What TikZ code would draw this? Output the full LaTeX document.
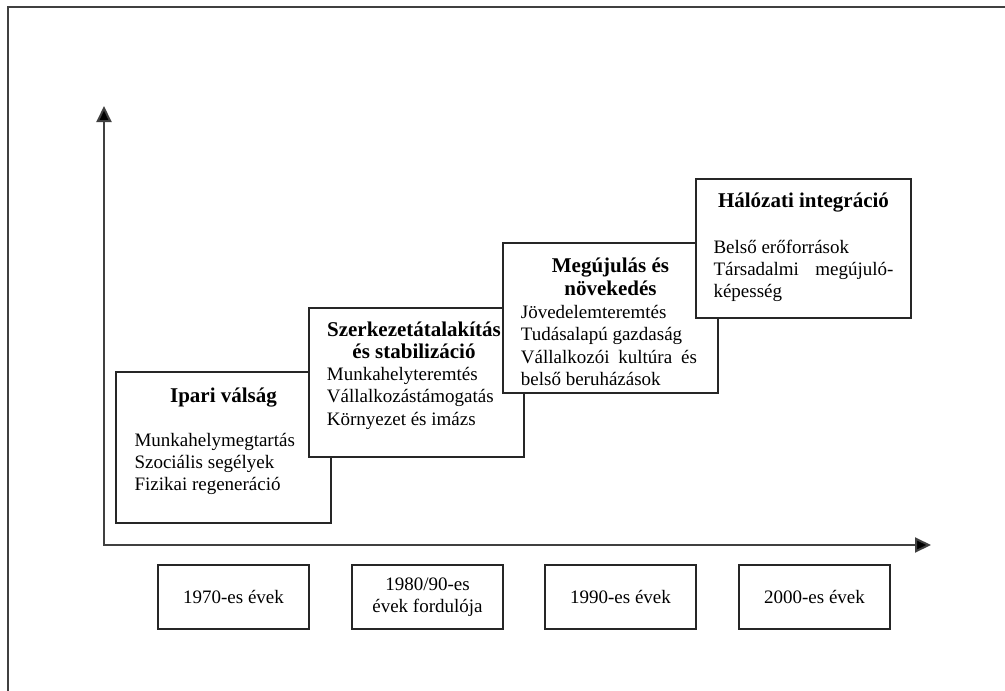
\documentclass[tikz,border=0pt]{standalone}
\usepackage{fontspec}
\setmainfont{Liberation Serif}
\usetikzlibrary{arrows.meta}
\newcommand{\bodyfont}{\fontsize{19}{22.3}\selectfont}
\newcommand{\titlefont}{\fontsize{21}{22}\selectfont\bfseries}
\tikzset{
  frameline/.style={line width=1.5pt, draw=black!75},
  axisline/.style={line width=2pt, draw=black!75, {Triangle[length=16pt,width=15pt,fill=black]}-{Triangle[length=16pt,width=15pt,fill=black]}},
  stagebox/.style={draw=black!85, line width=1.3pt, fill=white, rectangle, inner sep=0pt, minimum width=215pt},
  datebox/.style={draw=black!85, line width=1.2pt, fill=white, rectangle, inner sep=0pt, minimum width=151pt, minimum height=64pt, align=center, font=\bodyfont},
  stitle/.style={anchor=base, inner sep=0pt, font=\titlefont},
  sbody/.style={anchor=base west, inner sep=0pt, font=\bodyfont}
}
\begin{document}
\begin{tikzpicture}[x=1pt,y=-1pt]
\useasboundingbox (0,0) rectangle (1005,691);
% outer frame
\draw[frameline] (8,691) -- (8,7) -- (1005,7);
% axes
\coordinate (O) at (104,545);
\coordinate (ytip) at (104,106);
\coordinate (xtip) at (931,545);
\draw[axisline] (ytip) -- (O) -- (xtip);
% stage 1
\node[stagebox, minimum height=151pt] (s1) at (223.5,447.5) {};
\node[stitle] (t1) at (223.5,402.3) {Ipari válság};
\node[sbody] (b1a) at (134.3,446) {Munkahelymegtartás};
\node[sbody] (b1b) at (134.3,468.3) {Szociális segélyek};
\node[sbody] (b1c) at (134.3,490.6) {Fizikai regeneráció};
% stage 2
\node[stagebox, minimum height=149pt] (s2) at (416.5,382.5) {};
\node[stitle] (t2a) at (414,336.7) {Szerkezetátalakítás};
\node[stitle] (t2b) at (414,358.5) {és stabilizáció};
\node[sbody] (b2a) at (326.7,380.7) {Munkahelyteremtés};
\node[sbody] (b2b) at (326.7,402.9) {Vállalkozástámogatás};
\node[sbody] (b2c) at (326.7,425.1) {Környezet és imázs};
% stage 3
\node[stagebox, minimum height=150pt] (s3) at (610.5,318) {};
\node[stitle] (t3a) at (610.5,272.5) {Megújulás és};
\node[stitle] (t3b) at (610.5,295) {növekedés};
\node[sbody] (b3a) at (520.7,318.5) {Jövedelemteremtés};
\node[sbody] (b3b) at (520.7,340.8) {Tudásalapú gazdaság};
\node[sbody] (b3c) at (520.7,363.1) {\hbox to 176pt{Vállalkozói\hfill kultúra\hfill és}};
\node[sbody] (b3d) at (520.7,385.4) {belső beruházások};
% stage 4
\node[stagebox, minimum height=139pt] (s4) at (803.5,248.5) {};
\node[stitle] (t4) at (803.5,207.3) {Hálózati integráció};
\node[sbody] (b4a) at (713.3,253.3) {Belső erőforrások};
\node[sbody] (b4b) at (713.3,275.6) {\hbox to 180pt{Társadalmi\hfill megújuló-}};
\node[sbody] (b4c) at (713.3,297.9) {képesség};
% period boxes
\node[datebox] (d1) at (233.5,597) {1970-es évek};
\node[datebox] (d2) at (427.5,597) {1980/90-es\\évek fordulója};
\node[datebox] (d3) at (620.5,597) {1990-es évek};
\node[datebox] (d4) at (814.5,597) {2000-es évek};
\end{tikzpicture}
\end{document}
